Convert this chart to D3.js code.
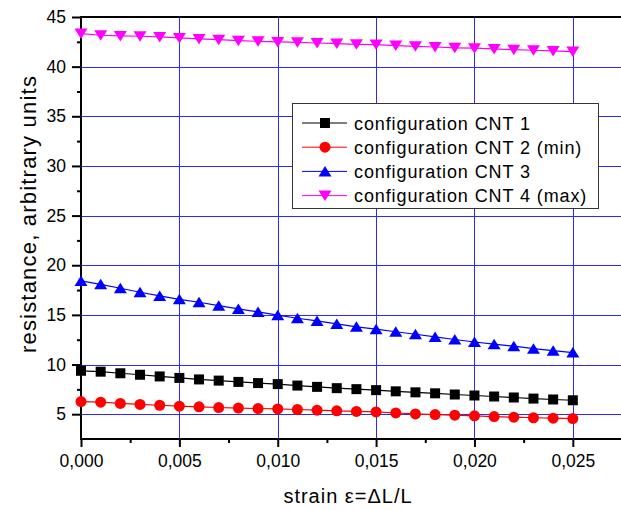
<!DOCTYPE html>
<html>
<head>
<meta charset="utf-8">
<script src="https://cdn.jsdelivr.net/npm/d3@7"></script>
<style>
  body { margin: 0; background: #fff; }
  text { font-family: "Liberation Sans", Arial, sans-serif; fill: #000; }
</style>
</head>
<body>
<div id="chart"></div>
<script>
// chart data
var strain = [0, 0.001, 0.002, 0.003, 0.004, 0.005, 0.006, 0.007, 0.008, 0.009, 0.010, 0.011, 0.012,
  0.013, 0.014, 0.015, 0.016, 0.017, 0.018, 0.019, 0.020, 0.021, 0.022, 0.023, 0.024, 0.025];
var cnt1 = [9.37, 9.28, 9.12, 8.97, 8.8, 8.65, 8.5, 8.38, 8.25, 8.13, 8.03, 7.88, 7.75,
  7.62, 7.52, 7.42, 7.3, 7.2, 7.1, 6.98, 6.88, 6.78, 6.68, 6.57, 6.48, 6.4];
var cnt2 = [6.27, 6.21, 6.08, 5.98, 5.9, 5.81, 5.74, 5.67, 5.61, 5.57, 5.53, 5.47, 5.4,
  5.34, 5.28, 5.23, 5.12, 5.03, 4.96, 4.9, 4.83, 4.76, 4.7, 4.64, 4.6, 4.56];
var cnt3 = [18.42, 18.08, 17.68, 17.28, 16.91, 16.57, 16.27, 15.93, 15.6, 15.3, 14.97, 14.66, 14.39,
  14.09, 13.8, 13.56, 13.3, 13.05, 12.78, 12.52, 12.27, 12.05, 11.85, 11.6, 11.4, 11.2];
var cnt4 = [43.33, 43.16, 43.09, 43.06, 42.99, 42.89, 42.79, 42.72, 42.62, 42.55, 42.49, 42.45, 42.38,
  42.32, 42.25, 42.22, 42.12, 42.05, 41.98, 41.9, 41.86, 41.78, 41.71, 41.65, 41.58, 41.52];
var seriesNames = ["configuration CNT 1", "configuration CNT 2 (min)", "configuration CNT 3", "configuration CNT 4 (max)"];
var seriesColors = ["#000000", "#ff0000", "#0000ff", "#ff00ff"];
var seriesShapes = ["square", "circle", "up", "down"];
var xTicks = [0, 0.005, 0.010, 0.015, 0.020, 0.025];
var yTicks = [5, 10, 15, 20, 25, 30, 35, 40, 45];

var width = 621, height = 510;
var plotLeft = 81, plotRight = 622, plotTop = 17, plotBottom = 439;

var svg = d3.select("#chart").append("svg")
  .attr("width", width)
  .attr("height", height);

var x = d3.scaleLinear().domain([0, 0.0275]).range([plotLeft, plotRight]);
var y = d3.scaleLinear().domain([2.5, 45]).range([plotBottom, plotTop]);

// grid
var grid = svg.append("g").attr("stroke", "#2a2aff").attr("stroke-width", 1);
grid.selectAll("line.gx").data(xTicks.slice(1)).enter().append("line")
  .attr("x1", d => Math.round(x(d)) + 0.5).attr("x2", d => Math.round(x(d)) + 0.5)
  .attr("y1", plotTop).attr("y2", plotBottom);
grid.selectAll("line.gy").data(yTicks.slice(0, -1)).enter().append("line")
  .attr("x1", plotLeft).attr("x2", plotRight)
  .attr("y1", d => Math.round(y(d)) + 0.5).attr("y2", d => Math.round(y(d)) + 0.5);

// axes
svg.append("g").attr("transform", "translate(0," + plotBottom + ")")
  .call(d3.axisBottom(x).tickValues(xTicks).tickSize(8).tickPadding(8)
    .tickFormat(d => d3.format(".3f")(d).replace(".", ",")));
svg.append("g").attr("transform", "translate(0," + plotBottom + ")")
  .call(d3.axisBottom(x).tickValues([0.0025, 0.0075, 0.0125, 0.0175, 0.0225]).tickSize(4).tickFormat(""));
svg.append("g").attr("transform", "translate(" + plotLeft + ",0)")
  .call(d3.axisLeft(y).tickValues(yTicks).tickSize(9).tickPadding(6));
svg.append("g").attr("transform", "translate(" + plotLeft + ",0)")
  .call(d3.axisLeft(y).tickValues([7.5, 12.5, 17.5, 22.5, 27.5, 32.5, 37.5, 42.5]).tickSize(4).tickFormat(""));

svg.selectAll(".domain").remove();
svg.selectAll(".tick line").attr("stroke", "#000").attr("stroke-width", 2);
svg.selectAll(".tick text").style("font-family", "Liberation Sans, Arial, sans-serif").style("font-size", "17.5px");

// frame lines
svg.append("line").attr("x1", plotLeft).attr("x2", plotLeft).attr("y1", plotTop - 1).attr("y2", plotBottom + 1)
  .attr("stroke", "#000").attr("stroke-width", 2);
svg.append("line").attr("x1", plotLeft).attr("x2", plotRight).attr("y1", plotBottom).attr("y2", plotBottom)
  .attr("stroke", "#000").attr("stroke-width", 2);
svg.append("line").attr("x1", plotLeft).attr("x2", plotRight).attr("y1", plotTop).attr("y2", plotTop)
  .attr("stroke", "#000").attr("stroke-width", 2);

function marker(sel, shape, color) {
  if (shape == "square") {
    sel.append("rect").attr("x", -5).attr("y", -5).attr("width", 10).attr("height", 10).attr("fill", color);
  } else if (shape == "circle") {
    sel.append("circle").attr("r", 5.5).attr("fill", color);
  } else if (shape == "up") {
    sel.append("path").attr("d", "M0,-5.5L6.5,5L-6.5,5Z").attr("fill", color);
  } else {
    sel.append("path").attr("d", "M0,5.5L6.5,-5L-6.5,-5Z").attr("fill", color);
  }
}

var allSeries = [cnt1, cnt2, cnt3, cnt4];
var line = d3.line().x((d, i) => x(strain[i])).y(d => y(d));

allSeries.forEach(function(vals, k) {
  var g = svg.append("g");
  g.append("path").attr("d", line(vals)).attr("fill", "none")
    .attr("stroke", seriesColors[k]).attr("stroke-width", 1.2);
  g.selectAll("g.pt").data(vals).enter().append("g")
    .attr("transform", (d, i) => "translate(" + x(strain[i]) + "," + y(d) + ")")
    .each(function() { marker(d3.select(this), seriesShapes[k], seriesColors[k]); });
});

// legend
var legend = svg.append("g");
legend.append("rect").attr("x", 292.5).attr("y", 103.5).attr("width", 306).attr("height", 105)
  .attr("fill", "#fff").attr("stroke", "#333").attr("stroke-width", 1);
seriesNames.forEach(function(name, k) {
  var ly = 123 + k * 24.2;
  legend.append("line").attr("x1", 302).attr("x2", 347).attr("y1", ly).attr("y2", ly)
    .attr("stroke", seriesColors[k]).attr("stroke-width", 1);
  marker(legend.append("g").attr("transform", "translate(325," + ly + ")"), seriesShapes[k], seriesColors[k]);
  legend.append("text").attr("x", 354).attr("y", ly + 6.5)
    .style("font-size", "18px").style("letter-spacing", "0.9px").text(name);
});

// axis titles
svg.append("text").attr("x", 348).attr("y", 503).attr("text-anchor", "middle")
  .style("font-size", "20px").style("letter-spacing", "1px").text("strain \u03b5=\u0394L/L");
svg.append("text").attr("transform", "translate(36,214) rotate(-90)").attr("text-anchor", "middle")
  .style("font-size", "22px").style("letter-spacing", "1.2px").text("resistance, arbitrary units");
</script>
</body>
</html>
